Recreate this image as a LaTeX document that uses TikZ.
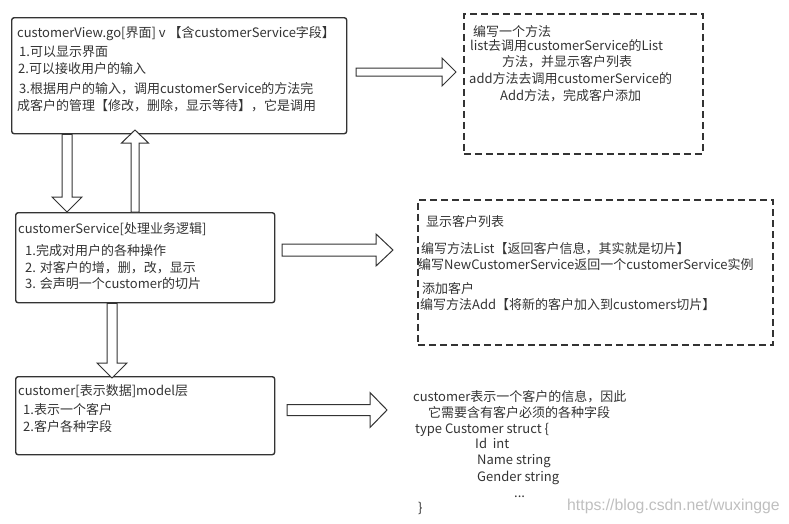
\documentclass[tikz,border=0pt]{standalone}
\usepackage{fontspec}
\setmainfont{Noto Sans CJK SC}
\newfontfamily\wmfont{Liberation Sans}
\usetikzlibrary{calc}
\definecolor{linegray}{HTML}{333333}
\definecolor{textgray}{HTML}{333333}
\tikzset{
  box/.style={draw=linegray, line width=1.4pt, rounded corners=2.5pt,
    anchor=north west, inner sep=0pt},
  dashbox/.style={draw=linegray, line width=1.8pt, dash pattern=on 7pt off 4pt,
    anchor=north west, inner sep=0pt},
  txt/.style={anchor=base west, inner sep=0pt, text=textgray,
    font=\fontsize{13}{15}\selectfont},
  block/.style n args={3}{draw=linegray, fill=white, line width=1pt,
    to path={
      ($(\tikztostart)!#1!90:(\tikztotarget)$)
      -- ($(\tikztotarget)!#3!(\tikztostart)!#1!-90:(\tikztostart)$)
      -- ($(\tikztotarget)!#3!(\tikztostart)!#2!-90:(\tikztostart)$)
      -- (\tikztotarget)
      -- ($(\tikztotarget)!#3!(\tikztostart)!#2!90:(\tikztostart)$)
      -- ($(\tikztotarget)!#3!(\tikztostart)!#1!90:(\tikztostart)$)
      -- ($(\tikztostart)!#1!-90:(\tikztotarget)$)
      -- cycle}}
}
\begin{document}
\begin{tikzpicture}[x=1pt, y=-1pt]
      \useasboundingbox (0,0) rectangle (789,523);
      % boxes
      \node[box, minimum width=335pt, minimum height=116pt] (view) at (11,17) {};
      \node[box, minimum width=259pt, minimum height=90pt] (service) at (15,212) {};
      \node[box, minimum width=259pt, minimum height=78pt] (model) at (15,376) {};
      \node[dashbox, minimum width=239pt, minimum height=140pt] (note1) at (463,13) {};
      \node[dashbox, minimum width=355pt, minimum height=145pt] (note2) at (417,199) {};
      % customerView
      \node[txt] (v0) at (17,37.5) {customerView.go[界面] v 【含customerService字段】};
      \node[txt] (v1) at (19,56.5) {1.可以显示界面};
      \node[txt] (v2) at (18,73) {2.可以接收用户的输入};
      \node[txt] (v3) at (19,93.5) {3.根据用户的输入，调用customerService的方法完};
      \node[txt] (v4) at (17,110) {成客户的管理【修改，删除，显示等待】，它是调用};
      % customerService
      \node[txt] (s0) at (18,233.5) {customerService[处理业务逻辑]};
      \node[txt] (s1) at (25,255.5) {1.完成对用户的各种操作};
      \node[txt] (s2) at (25,272) {2. 对客户的增，删，改，显示};
      \node[txt] (s3) at (25,288.5) {3. 会声明一个customer的切片};
      % customer
      \node[txt] (m0) at (18,395.5) {customer[表示数据]model层};
      \node[txt] (m1) at (23,414.5) {1.表示一个客户};
      \node[txt] (m2) at (23,431.5) {2.客户各种字段};
      % note 1
      \node[txt] (a0) at (473,36.5) {编写一个方法};
      \node[txt] (a1) at (470,50.5) {list去调用customerService的List};
      \node[txt] (a2) at (502,66.5) {方法，并显示客户列表};
      \node[txt] (a3) at (469,83.5) {add方法去调用customerService的};
      \node[txt] (a4) at (500,100.5) {Add方法，完成客户添加};
      % note 2
      \node[txt] (b0) at (426,226.5) {显示客户列表};
      \node[txt] (b1) at (421,253.5) {编写方法List【返回客户信息，其实就是切片】};
      \node[txt] (b2) at (418,269.5) {编写NewCustomerService返回一个customerService实例};
      \node[txt] (b3) at (422,293.5) {添加客户};
      \node[txt] (b4) at (420,309.5) {编写方法Add【将新的客户加入到customers切片】};
      % struct
      \node[txt] (c0) at (413,401.5) {customer表示一个客户的信息，因此};
      \node[txt] (c1) at (428,417.5) {它需要含有客户必须的各种字段};
      \node[txt] (c2) at (415,433.5) {type Customer struct \{};
      \node[txt] (c3) at (475,448.5) {Id\ \ int};
      \node[txt] (c4) at (477,464.5) {Name string};
      \node[txt] (c5) at (477,481.5) {Gender string};
      \node[txt] (c6) at (514,497) {...};
      \node[txt] (c7) at (418,512.5) {\}};
      \node[anchor=base west, inner sep=0pt, text=black!25,
        font=\wmfont\fontsize{15.8}{17}\selectfont] (wm) at (567,510) {https://blog.csdn.net/wuxingge};
      % arrows
      \coordinate (d1) at (view.south -| 67,0);
      \coordinate (d2) at (service.north -| 67,0);
      \coordinate (u1) at (service.north -| 135,0);
      \coordinate (u2) at (135,130);
      \coordinate (r1) at (356,72);
      \coordinate (r2) at (456,72);
      \coordinate (r3) at (282,250);
      \coordinate (r4) at (393,250);
      \coordinate (d3) at (service.south -| 112,0);
      \coordinate (d4) at (112,378);
      \coordinate (r5) at (287,410);
      \coordinate (r6) at (387,410);
      \draw[block={5pt}{15pt}{15pt}] (d1) to (d2);
      \draw[block={4pt}{13.5pt}{13pt}] (u1) to (u2);
      \draw[block={4pt}{14pt}{14pt}] (r1) to (r2);
      \draw[block={6pt}{16pt}{17pt}] (r3) to (r4);
      \draw[block={5pt}{15pt}{15pt}] (d3) to (d4);
      \draw[block={5.5pt}{17.5pt}{17pt}] (r5) to (r6);
    \end{tikzpicture}
\end{document}
